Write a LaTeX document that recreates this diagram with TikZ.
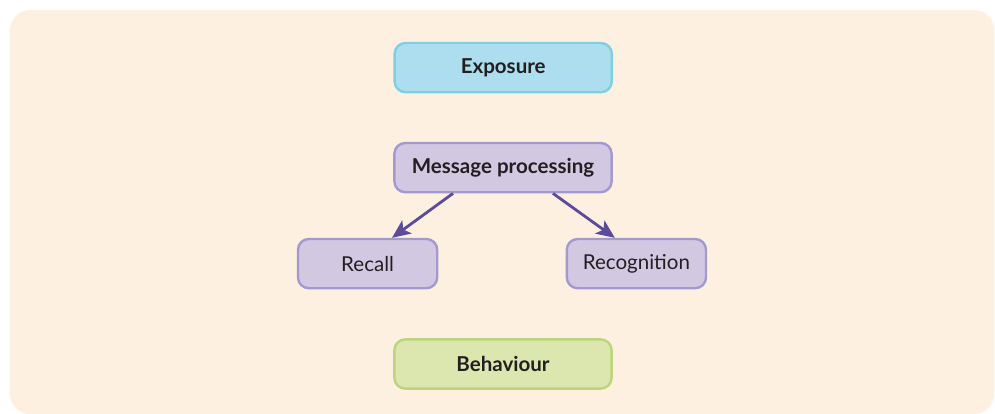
\documentclass[tikz,border=0pt]{standalone}
\usepackage{fontspec}
\setmainfont{Lato}
\usetikzlibrary{arrows.meta}
\definecolor{panelbg}{HTML}{FDF0E1}
\definecolor{bluefill}{HTML}{ACDEEF}
\definecolor{blueline}{HTML}{7DD0E0}
\definecolor{lilacfill}{HTML}{D3C8E2}
\definecolor{lilacline}{HTML}{A29ACF}
\definecolor{greenfill}{HTML}{DCE7B0}
\definecolor{greenline}{HTML}{BDD57A}
\definecolor{arrowpurple}{HTML}{5B4B9A}
\definecolor{inktext}{HTML}{231F20}
\tikzset{
  stagebox/.style={rectangle,rounded corners=0.27cm,line width=1.7pt,minimum width=5.43cm,minimum height=1.23cm,inner sep=0pt,font=\fontsize{14.6}{16}\selectfont\bfseries,text=inktext},
  subbox/.style={stagebox,minimum width=3.48cm,font=\fontsize{14.6}{16}\selectfont,fill=lilacfill,draw=lilacline},
  flow/.style={-{Stealth[length=0.46cm,width=0.4cm,inset=0.11cm]},line width=2pt,draw=arrowpurple}
}

\begin{document}
\begin{tikzpicture}
	%% canvas and panel
	\useasboundingbox (0,0) rectangle (24.875,-10.325);
	\fill [panelbg,rounded corners=0.5cm] (0.25,-0.25) rectangle (24.85,-10.35);
	%% stages
	\node [stagebox,fill=bluefill,draw=blueline] (exposure) at (12.58,-1.69) {Exposure};
	\node [stagebox,fill=lilacfill,draw=lilacline] (processing) at (12.575,-4.19) {Message processing};
	\node [subbox] (recall) at (9.19,-6.59) {Recall};
	\node [subbox] (recognition) at (15.91,-6.59) {Recognition};
	\node [stagebox,fill=greenfill,draw=greenline] (behaviour) at (12.575,-9.1) {Behaviour};
	%% arrows
	\draw [flow] ([xshift=-1.25cm]processing.south) -- ([xshift=0.61cm]recall.north);
	\draw [flow] ([xshift=1.25cm]processing.south) -- ([xshift=-0.54cm]recognition.north);
\end{tikzpicture}
\end{document}
